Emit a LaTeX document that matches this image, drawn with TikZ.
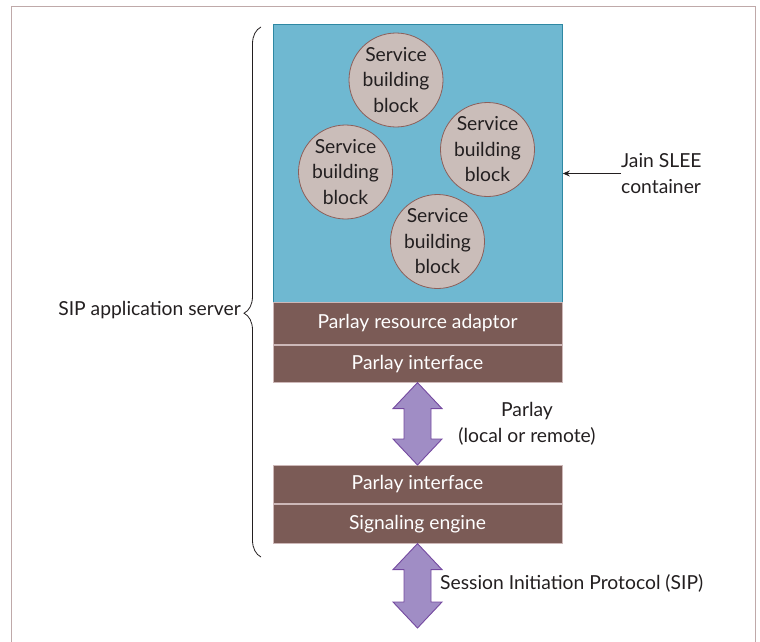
\documentclass[tikz,border=0pt]{standalone}
\usepackage{fontspec}
\setmainfont{Lato}
\usetikzlibrary{calc,decorations.pathreplacing,arrows.meta}
\definecolor{frameC}{HTML}{BFA9A9}
\definecolor{sleeFill}{HTML}{6FB8D1}
\definecolor{sleeEdge}{HTML}{2E88A3}
\definecolor{barFill}{HTML}{7B5B56}
\definecolor{barEdge}{HTML}{CDB8B8}
\definecolor{sbbFill}{HTML}{CABDB9}
\definecolor{sbbEdge}{HTML}{8C5F5A}
\definecolor{arrFill}{HTML}{A08DC5}
\definecolor{arrEdge}{HTML}{7449A0}
\definecolor{ink}{HTML}{231F20}
\begin{document}
\begin{tikzpicture}[x=1pt,y=-1pt,
  every node/.style={font=\fontsize{19.3}{25.5}\selectfont, text=ink},
  layerbar/.style={draw=barEdge, line width=0.8pt, fill=barFill, text=white,
    minimum width=289pt, inner sep=0pt, anchor=north},
  sbb/.style={circle, draw=sbbEdge, line width=0.8pt, fill=sbbFill,
    minimum size=94pt, inner sep=0pt, align=center},
  bigarrow/.style={draw=arrEdge, line width=0.9pt, fill=arrFill, line join=miter},
  lbl/.style={align=center, inner sep=0pt}]
\useasboundingbox (0,0) rectangle (760,642);
% outer frame
\draw[frameC, line width=1pt] (11,642) -- (11,7) -- (755,7) -- (755,642);

% Jain SLEE container
\node[draw=sleeEdge, line width=0.8pt, fill=sleeFill, minimum width=289pt,
  minimum height=278pt, inner sep=0pt, anchor=north west] (slee) at (273,24) {};

% service building blocks
\node[sbb] (b1) at (396,80) {Service\\building\\block};
\node[sbb] (b2) at (487.5,149.5) {Service\\building\\block};
\node[sbb] (b3) at (345.5,172) {Service\\building\\block};
\node[sbb] (b4) at (437.5,241.5) {Service\\building\\block};

% protocol layers
\node[layerbar, minimum height=42pt] (pra) at (417.5,302) {Parlay resource adaptor};
\node[layerbar, minimum height=37pt] (pi1) at (pra.south) {Parlay interface};
\node[layerbar, minimum height=38pt] (pi2) at (417.5,465) {Parlay interface};
\node[layerbar, minimum height=39pt] (se) at (pi2.south) {Signaling engine};
\coordinate (sipend) at (417.5,628);

% double-headed arrows
\draw[bigarrow] (pi1.south) -- ($(pi1.south)+(24.5,26)$) -- ($(pi1.south)+(13.5,26)$)
  -- ($(pi2.north)+(13.5,-26)$) -- ($(pi2.north)+(24.5,-26)$) -- (pi2.north)
  -- ($(pi2.north)+(-24.5,-26)$) -- ($(pi2.north)+(-13.5,-26)$)
  -- ($(pi1.south)+(-13.5,26)$) -- ($(pi1.south)+(-24.5,26)$) -- cycle;
\draw[bigarrow] (se.south) -- ($(se.south)+(24.5,26)$) -- ($(se.south)+(13.5,26)$)
  -- ($(sipend)+(13.5,-26)$) -- ($(sipend)+(24.5,-26)$) -- (sipend)
  -- ($(sipend)+(-24.5,-26)$) -- ($(sipend)+(-13.5,-26)$)
  -- ($(se.south)+(-13.5,26)$) -- ($(se.south)+(-24.5,26)$) -- cycle;

% labels
\node[lbl] (parlay) at (527,424) {Parlay\\(local or remote)};
\node[lbl, anchor=west] (sip) at (440,583) {Session Initiation Protocol (SIP)};
\node[lbl, align=left, anchor=west] (jain) at (621,173.5) {Jain SLEE\\container};
\draw[ink, line width=0.8pt, -{Stealth[length=7pt,width=6pt]}]
  (jain.west) -- (jain.west -| slee.east);

% server brace
\coordinate (brB) at (261,557);
\coordinate (brT) at (261,27);
\draw[ink, line width=0.8pt, decorate,
  decoration={brace, amplitude=17pt, aspect=0.46}] (brB) -- (brT);
\node[lbl, anchor=east] (sas) at (241,310) {SIP application server};
\end{tikzpicture}
\end{document}
